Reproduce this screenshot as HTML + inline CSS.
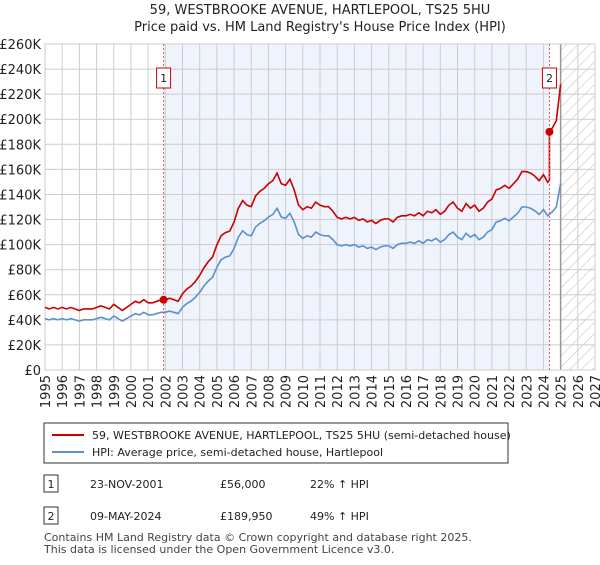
<!DOCTYPE html>
<html><head><meta charset="utf-8"><style>
body{margin:0;background:#fff;font-family:"Liberation Sans","DejaVu Sans",sans-serif;}
svg text{font-family:"DejaVu Sans","Liberation Sans",sans-serif;}
</style></head><body>
<svg id="chart" width="600" height="560" xmlns="http://www.w3.org/2000/svg">
<text x="320" y="14" text-anchor="middle" font-size="13" fill="#222">59, WESTBROOKE AVENUE, HARTLEPOOL, TS25 5HU</text>
<text x="320" y="31" text-anchor="middle" font-size="13" fill="#222">Price paid vs. HM Land Registry's House Price Index (HPI)</text>
<defs><pattern id="hatch" width="8" height="8" patternUnits="userSpaceOnUse" patternTransform="rotate(45)"><line x1="0" y1="0" x2="0" y2="8" stroke="#bbb" stroke-width="1"/></pattern></defs>
<g id="plot"></g>
<g>
<rect x="44" y="423" width="464" height="40" fill="#fff" stroke="#333" stroke-width="1"/>
<line x1="52" y1="435" x2="84" y2="435" stroke="#cc0000" stroke-width="2"/>
<text x="92" y="439" font-size="11" fill="#222">59, WESTBROOKE AVENUE, HARTLEPOOL, TS25 5HU (semi-detached house)</text>
<line x1="52" y1="452" x2="84" y2="452" stroke="#5b8fd0" stroke-width="2"/>
<text x="92" y="456" font-size="11" fill="#222">HPI: Average price, semi-detached house, Hartlepool</text>
</g>
<g font-size="11" fill="#222">
<rect x="44" y="475" width="14" height="17" fill="#fff" stroke="#333"/><text x="51" y="488" text-anchor="middle">1</text>
<text x="90" y="488">23-NOV-2001</text><text x="220" y="488">£56,000</text><text x="310" y="488">22% ↑ HPI</text>
<rect x="44" y="507" width="14" height="17" fill="#fff" stroke="#333"/><text x="51" y="520" text-anchor="middle">2</text>
<text x="90" y="520">09-MAY-2024</text><text x="220" y="520">£189,950</text><text x="310" y="520">49% ↑ HPI</text>
</g>
<text x="44" y="541" font-size="11" fill="#444">Contains HM Land Registry data © Crown copyright and database right 2025.</text>
<text x="44" y="553" font-size="11" fill="#444">This data is licensed under the Open Government Licence v3.0.</text>
</svg>
<script>
const hpiStartYear = 1995;
const hpiValues = [41,40,41,40, 41,40,41,40, 39,40,40,40, 41,42,41,40, 43,41,39,41, 43,45,44,46, 44,44,45,46,
 46,47,46,45, 50,53,55,58, 62,67,71,74, 82,88,90,91, 97,106,111,108, 107,114,117,119, 122,124,129,122,
 121,125,118,108, 105,107,106,110, 108,107,107,104, 100,99,100,99, 100,98,99,97, 98,96,98,99,
 99,97,100,101, 101,102,101,103, 101,104,103,105, 102,104,108,110, 106,104,109,106, 108,104,106,110,
 112,118,119,121, 119,122,125,130, 130,129,127,124, 128,123,126,130, 149];
const saleDates = [2001.9, 2024.35];
const salePrices = [56, 189.95];
const saleLabels = ["1","2"];
const yTicks = [0,20,40,60,80,100,120,140,160,180,200,220,240,260];
const xTicks = [1995,1996,1997,1998,1999,2000,2001,2002,2003,2004,2005,2006,2007,2008,2009,2010,2011,2012,2013,2014,2015,2016,2017,2018,2019,2020,2021,2022,2023,2024,2025,2026,2027];

const X0=45,X1=595,Y0=370,Y1=44;
const xs=y=>X0+(y-1995)/(2027-1995)*(X1-X0);
const ys=v=>Y0-v/260*(Y0-Y1);
const NS="http://www.w3.org/2000/svg";
const g=document.getElementById('plot');
function mk(t,a){const e=document.createElementNS(NS,t);for(const k in a)e.setAttribute(k,a[k]);g.appendChild(e);return e;}
const lastYear=hpiStartYear+(hpiValues.length-1)/4;
let e;
e=mk('rect',{x:X0,y:Y1,width:X1-X0,height:Y0-Y1,fill:'#fff'});
e=mk('rect',{x:xs(saleDates[0]),y:Y1,width:xs(saleDates[1])-xs(saleDates[0]),height:Y0-Y1,fill:'#eef3fc'});


e=mk('rect',{x:xs(lastYear),y:Y1,width:X1-xs(lastYear),height:Y0-Y1,fill:'url(#hatch)'});


yTicks.forEach(v=>{
 mk('line',{x1:X0,x2:X1,y1:ys(v),y2:ys(v),stroke:'#cccccc','stroke-width':1});
 e=mk('text',{x:X0-4,y:ys(v)+5,'text-anchor':'end','font-size':13,fill:'#222'});
 e.textContent=v===0?'£0':'£'+v+'K';
 
 
});
xTicks.forEach(y=>{
 mk('line',{x1:xs(y),x2:xs(y),y1:Y1,y2:Y0,stroke:'#cccccc','stroke-width':1});
 e=mk('text',{x:0,y:0,'text-anchor':'end','font-size':13,fill:'#222',transform:`translate(${xs(y)+5},${Y0+5}) rotate(-90)`});
 e.textContent=y;
 
 
});
mk('line',{x1:xs(lastYear),x2:xs(lastYear),y1:Y1,y2:Y0,stroke:'#999','stroke-width':1.5});
mk('rect',{x:X0,y:Y1,width:X1-X0,height:Y0-Y1,fill:'none',stroke:'#cccccc'});
const hpiPts=hpiValues.map((v,i)=>[hpiStartYear+i/4,v]);
e=mk('polyline',{points:hpiPts.map(p=>xs(p[0])+','+ys(p[1])).join(' '),fill:'none',stroke:'#5b8fd0','stroke-width':1.6});


function hpiAt(t){const i=(t-hpiStartYear)*4;const a=Math.floor(i),b=Math.min(a+1,hpiValues.length-1),f=i-a;return hpiValues[a]*(1-f)+hpiValues[b]*f;}
const r1=salePrices[0]/hpiAt(saleDates[0]), r2=salePrices[1]/hpiAt(saleDates[1]);
const redPts=[];
hpiPts.forEach(p=>{ if(p[0]<saleDates[1]) redPts.push([p[0],p[1]*r1]); });
redPts.push([saleDates[1],hpiAt(saleDates[1])*r1]);
redPts.push([saleDates[1],salePrices[1]]);
hpiPts.forEach(p=>{ if(p[0]>saleDates[1]) redPts.push([p[0],p[1]*r2]); });
e=mk('polyline',{points:redPts.map(p=>xs(p[0])+','+ys(p[1])).join(' '),fill:'none',stroke:'#cc0000','stroke-width':1.6});


saleDates.forEach((d,i)=>{
 mk('line',{x1:xs(d),x2:xs(d),y1:Y1,y2:Y0,stroke:'#ee5555','stroke-width':1,'stroke-dasharray':'2,2'});
 e=mk('circle',{cx:xs(d),cy:ys(salePrices[i]),r:4,fill:'#cc0000'});
 
 
 e=mk('rect',{x:xs(d)-7,y:68,width:14,height:20,fill:'#fff',stroke:'#cc0000'});
 
 
 e=mk('text',{x:xs(d),y:82,'text-anchor':'middle','font-size':11,fill:'#222'});
 e.textContent=saleLabels[i];
 
 
});
</script>
</body></html>
